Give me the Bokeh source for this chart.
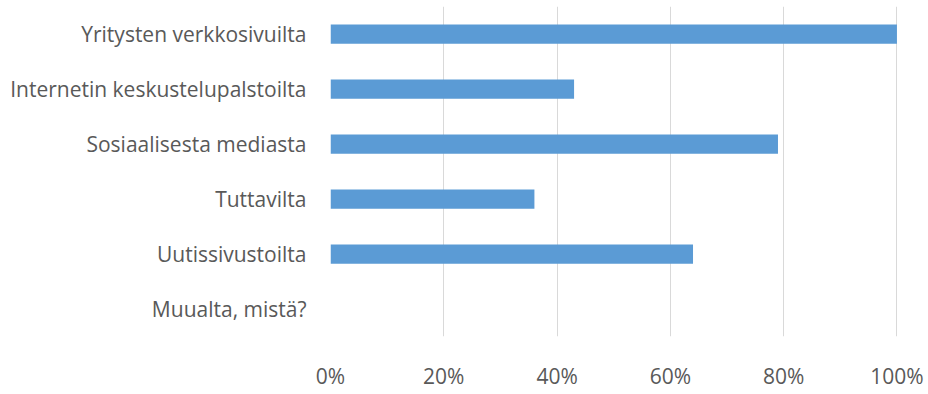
from bokeh.plotting import figure
from bokeh.models import Range1d, FixedTicker, NumeralTickFormatter, ColumnDataSource
from bokeh.embed import file_html
from bokeh.resources import INLINE

categories = ["Yritysten verkkosivuilta", "Internetin keskustelupalstoilta",
              "Sosiaalisesta mediasta", "Tuttavilta", "Uutissivustoilta", "Muualta, mistä?"]
shares = [1.00, 0.43, 0.79, 0.36, 0.64, 0.0]
x_ticks = [0, 0.2, 0.4, 0.6, 0.8, 1.0]

n = len(categories)
ypos = [n - 1 - i for i in range(n)]
src = ColumnDataSource(dict(y=ypos, right=shares, cat=categories))

p = figure(width=926, height=392, output_backend="svg", toolbar_location=None,
           x_range=Range1d(0, 1.001), y_range=Range1d(-0.5, n - 0.5),
           min_border_left=330, min_border_right=29, min_border_top=6, min_border_bottom=43)
p.outline_line_color = None
p.background_fill_color = "white"
p.border_fill_color = "white"

p.hbar(y="y", left=0, right="right", height=0.35, source=src,
       fill_color="#5B9BD5", line_color=None)

p.xaxis.ticker = FixedTicker(ticks=x_ticks)
p.xaxis.formatter = NumeralTickFormatter(format="0%")
p.yaxis.ticker = FixedTicker(ticks=ypos)
p.yaxis.major_label_overrides = {yv: c for yv, c in zip(ypos, categories)}

for ax in (p.xaxis, p.yaxis):
    ax.axis_line_color = None
    ax.major_tick_line_color = None
    ax.minor_tick_line_color = None
    ax.major_tick_in = 0
    ax.major_tick_out = 0
    ax.major_label_text_font = "Open Sans"
    ax.major_label_text_font_size = "21px"
    ax.major_label_text_color = "#595959"
p.xaxis.major_label_standoff = 25
p.yaxis.major_label_standoff = 24

p.xgrid.ticker = FixedTicker(ticks=x_ticks)
p.xgrid.grid_line_color = "#D9D9D9"
p.xgrid.grid_line_width = 1
p.ygrid.grid_line_color = None

open("out.html", "w").write(file_html(p, INLINE))
